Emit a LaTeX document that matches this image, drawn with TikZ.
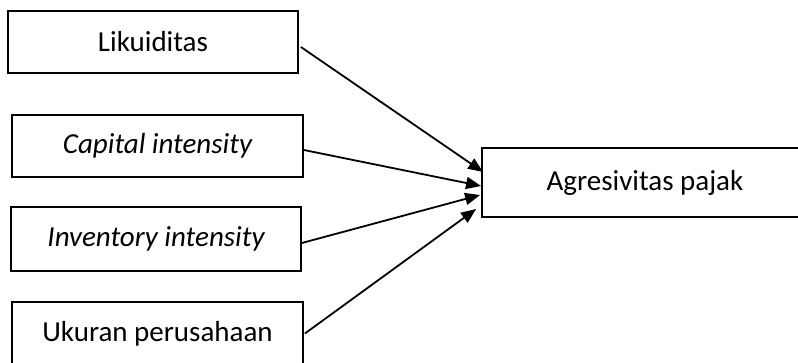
\documentclass[tikz,border=0pt]{standalone}
\usepackage{fontspec}
\setmainfont{Carlito}
\usetikzlibrary{arrows.meta,calc}
\begin{document}
\begin{tikzpicture}[x=1pt,y=-1pt,
  box/.style={draw=black,line width=1.8pt,fill=white,inner sep=0pt,
    font=\fontsize{29}{35}\selectfont},
  link/.style={line width=1.8pt,-{Triangle[length=15pt,width=12pt]}}]
\useasboundingbox (0,0) rectangle (798,362);
\clip (0,0) rectangle (798,362);
\node[box,minimum width=290pt,minimum height=62pt] (b1) at (153,42) {Likuiditas};
\node[box,minimum width=291pt,minimum height=62pt] (b2) at (157.5,146) {\itshape Capital intensity};
\node[box,minimum width=290pt,minimum height=64pt] (b3) at (156,239) {\itshape Inventory intensity};
\node[box,minimum width=291pt,minimum height=63pt] (b4) at (157.5,333.5) {Ukuran perusahaan};
\node[box,minimum width=326pt,minimum height=69pt] (t) at (645,182.5) {Agresivitas pajak};
\draw[link] ($(b1.east)+(2,5)$) -- ($(t.west)+(2,-10.5)$);
\draw[link] ($(b2.east)+(0,4)$) -- ($(t.west)+(0,3.5)$);
\draw[link] ($(b3.east)+(0,4)$) -- ($(t.west)+(-1,12.5)$);
\draw[link] ($(b4.east)+(1,0)$) -- ($(t.west)+(-5,26.5)$);
\end{tikzpicture}
\end{document}
